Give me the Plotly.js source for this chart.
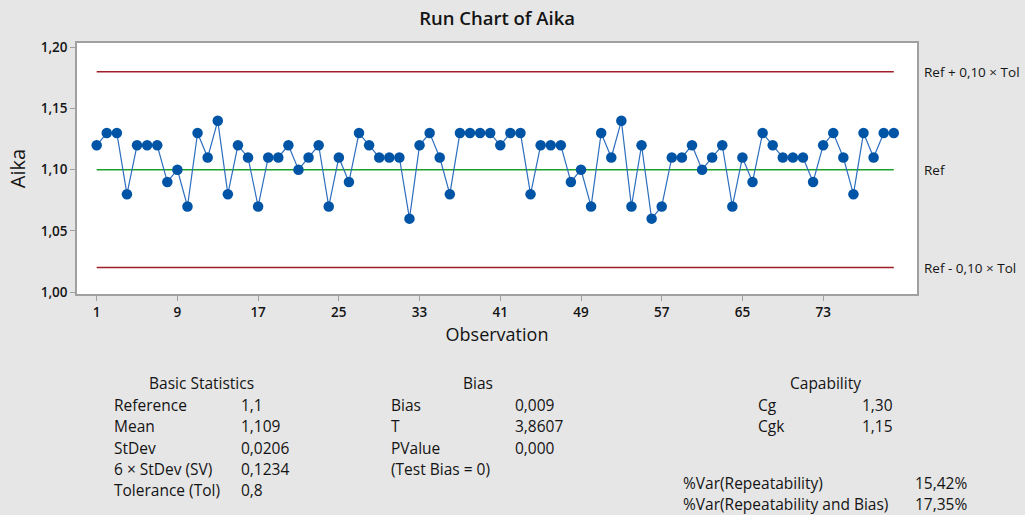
<!DOCTYPE html>
<html>
<head>
<meta charset="utf-8">
<script src="https://cdn.plot.ly/plotly-3.0.1.min.js"></script>
<style>
  html, body { margin: 0; padding: 0; background: rgb(230, 230, 230); }
  #runchart { width: 1025px; height: 515px; }
</style>
</head>
<body>
<div id="runchart"></div>
<script>
// measured values of Aika, observations 1..80
var aika = [1.12, 1.13, 1.13, 1.08, 1.12, 1.12, 1.12, 1.09, 1.10, 1.07,
            1.13, 1.11, 1.14, 1.08, 1.12, 1.11, 1.07, 1.11, 1.11, 1.12,
            1.10, 1.11, 1.12, 1.07, 1.11, 1.09, 1.13, 1.12, 1.11, 1.11,
            1.11, 1.06, 1.12, 1.13, 1.11, 1.08, 1.13, 1.13, 1.13, 1.13,
            1.12, 1.13, 1.13, 1.08, 1.12, 1.12, 1.12, 1.09, 1.10, 1.07,
            1.13, 1.11, 1.14, 1.07, 1.12, 1.06, 1.07, 1.11, 1.11, 1.12,
            1.10, 1.11, 1.12, 1.07, 1.11, 1.09, 1.13, 1.12, 1.11, 1.11,
            1.11, 1.09, 1.12, 1.13, 1.11, 1.08, 1.13, 1.11, 1.13, 1.13];

var refValue = 1.1;
var upperLimit = 1.18;
var lowerLimit = 1.02;
var refLabels = ['Ref + 0,10 × Tol', 'Ref', 'Ref - 0,10 × Tol'];

var xTicks = [1, 9, 17, 25, 33, 41, 49, 57, 65, 73];
var yTicks = [1.00, 1.05, 1.10, 1.15, 1.20];

var basicNames = ['Reference', 'Mean', 'StDev', '6 × StDev (SV)', 'Tolerance (Tol)'];
var basicValues = ['1,1', '1,109', '0,0206', '0,1234', '0,8'];
var biasNames = ['Bias', 'T', 'PValue', '(Test Bias = 0)'];
var biasValues = ['0,009', '3,8607', '0,000', ''];
var capNames = ['Cg', 'Cgk'];
var capValues = ['1,30', '1,15'];
var varNames = ['%Var(Repeatability)', '%Var(Repeatability and Bias)'];
var varValues = ['15,42%', '17,35%'];

// pixel -> paper helpers for the stats block under the plot
var L = 77, T = 43, W = 840, H = 251;
function px(x) { return (x - L) / W; }
function py(y) { return (T + H - y) / H; }

var ink = 'rgb(20, 20, 20)';
var txtFont = {family: 'Open Sans, sans-serif', size: 15.5, color: ink};

var ann = [];
function addText(text, x, y, anchor) {
  ann.push({text: text, xref: 'paper', yref: 'paper', x: px(x), y: py(y),
            xanchor: anchor || 'left', yanchor: 'middle', showarrow: false, font: txtFont});
}

addText('Basic Statistics', 201, 383, 'center');
basicNames.forEach(function (n, i) {
  addText(n, 112, 405 + i * 21.3);
  addText(basicValues[i], 239, 405 + i * 21.3);
});
addText('Bias', 478, 383, 'center');
biasNames.forEach(function (n, i) {
  addText(n, 389, 405 + i * 21.3);
  if (biasValues[i]) addText(biasValues[i], 513, 405 + i * 21.3);
});
addText('Capability', 825, 383, 'center');
capNames.forEach(function (n, i) {
  addText(n, 756, 405 + i * 21.3);
  addText(capValues[i], 860, 405 + i * 21.3);
});
varNames.forEach(function (n, i) {
  addText(n, 681, 483 + i * 21.3);
  addText(varValues[i], 913, 483 + i * 21.3);
});

[upperLimit, refValue, lowerLimit].forEach(function (v, i) {
  ann.push({text: refLabels[i], xref: 'paper', yref: 'y', x: 1.006, y: v,
            xanchor: 'left', yanchor: 'middle', showarrow: false,
            font: {family: 'Open Sans, sans-serif', size: 13.5, color: ink}});
});

var lastObs = aika.length;
var shapes = [
  {type: 'line', layer: 'below', xref: 'x', yref: 'y', x0: 1, x1: lastObs, y0: upperLimit, y1: upperLimit,
   line: {color: 'rgb(160, 30, 40)', width: 1.5}},
  {type: 'line', layer: 'below', xref: 'x', yref: 'y', x0: 1, x1: lastObs, y0: lowerLimit, y1: lowerLimit,
   line: {color: 'rgb(160, 30, 40)', width: 1.5}},
  {type: 'line', layer: 'below', xref: 'x', yref: 'y', x0: 1, x1: lastObs, y0: refValue, y1: refValue,
   line: {color: 'rgb(30, 160, 40)', width: 1.5}}
];

var trace = {
  type: 'scatter',
  y: aika,
  x0: 1,
  dx: 1,
  mode: 'lines+markers',
  line: {color: 'rgb(45, 110, 190)', width: 1.2},
  marker: {color: 'rgb(0, 84, 166)', size: 10.5, symbol: 'circle'},
  hoverinfo: 'x+y',
  showlegend: false
};

var layout = {
  width: 1025,
  height: 515,
  separators: ', ',
  paper_bgcolor: 'rgb(230, 230, 230)',
  plot_bgcolor: 'white',
  font: {family: 'Open Sans, sans-serif', color: ink},
  title: {text: 'Run Chart of Aika', x: 0.485, xanchor: 'center', y: 0.965, yanchor: 'middle',
          font: {size: 18.5, weight: 600, color: ink}},
  margin: {l: L, r: 1025 - L - W, t: T, b: 515 - T - H},
  xaxis: {
    range: [-0.95, 82.3],
    tickvals: xTicks,
    ticks: 'outside',
    ticklen: 5,
    tickcolor: 'rgb(160, 160, 160)',
    tickfont: {size: 13.5, weight: 600},
    showgrid: false,
    zeroline: false,
    showline: true,
    mirror: true,
    linecolor: 'rgb(160, 160, 160)',
    linewidth: 1.5,
    title: {text: 'Observation', font: {size: 18}, standoff: 8}
  },
  yaxis: {
    range: [0.9984, 1.2036],
    tickvals: yTicks,
    tickformat: '.2f',
    ticks: 'outside',
    ticklen: 5,
    tickcolor: 'rgb(160, 160, 160)',
    tickfont: {size: 13.5, weight: 600},
    showgrid: false,
    zeroline: false,
    showline: true,
    mirror: true,
    linecolor: 'rgb(160, 160, 160)',
    linewidth: 1.5,
    title: {text: 'Aika', font: {size: 20}, standoff: 10}
  },
  shapes: shapes,
  annotations: ann
};

Plotly.newPlot('runchart', [trace], layout, {displayModeBar: false});
</script>
</body>
</html>
